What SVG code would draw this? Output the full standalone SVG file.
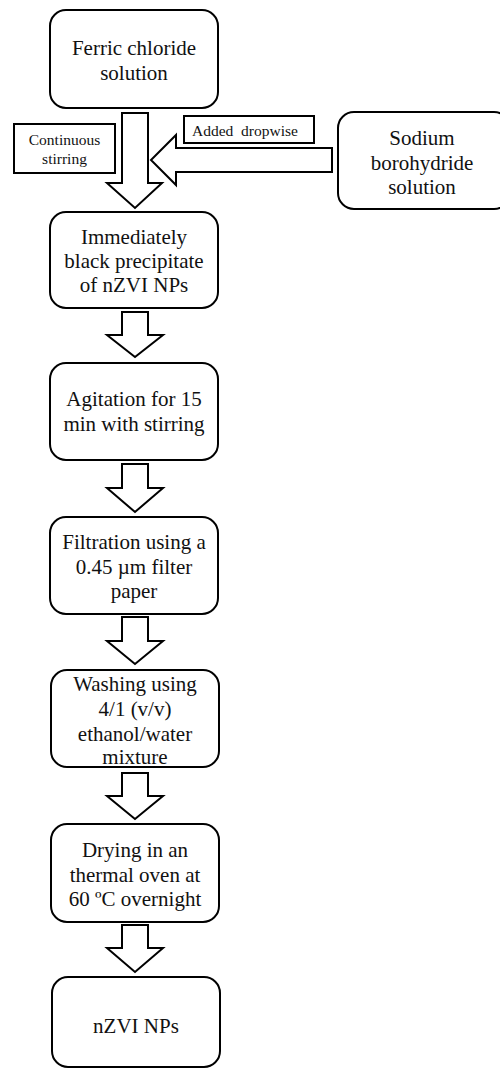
<svg xmlns="http://www.w3.org/2000/svg" width="500" height="1069" viewBox="0 0 500 1069">
<style>
.box{fill:#fff;stroke:#000;stroke-width:2}
.lab{fill:#fff;stroke:#000;stroke-width:2}
.arr{fill:#fff;stroke:#000;stroke-width:2;stroke-linejoin:miter}
.t{font-family:"Liberation Serif","Times New Roman",serif;font-size:21px;fill:#111;text-anchor:middle}
.s{font-family:"Liberation Serif","Times New Roman",serif;font-size:15.5px;fill:#111;text-anchor:middle}
</style>
<rect width="500" height="1069" fill="#fff"/>
<g id="connectors">
<polygon class="arr" points="122,113 148,113 148,183 162,183 135,208 107,183 122,183"/>
<polygon class="arr" points="332,148 176,148 176,135 151,160 176,185 176,172 332,172"/>
<polygon class="arr" points="122,312 148,312 148,335 163,335 135,357 107,335 122,335"/>
<polygon class="arr" points="122,464 148,464 148,488 163,488 135,512 107,488 122,488"/>
<polygon class="arr" points="122,617 148,617 148,641 163,641 135,664 107,641 122,641"/>
<polygon class="arr" points="122,773 148,773 148,796 163,796 135,819 107,796 122,796"/>
<polygon class="arr" points="122,925 148,925 148,948 163,948 135,972 107,948 122,948"/>
</g>
<g id="label-stirring">
<rect class="lab" x="14" y="124" width="101" height="49"/>
<text class="s" x="64.5" y="145">Continuous</text>
<text class="s" x="64.5" y="164">stirring</text>
</g>
<g id="label-dropwise">
<rect class="lab" x="184" y="116" width="130" height="27"/>
<text class="s" x="245" y="136" xml:space="preserve">Added  dropwise</text>
</g>
<g id="n1">
<rect class="box" x="50" y="10" width="168" height="98" rx="16"/>
<text class="t" x="134" y="55">Ferric chloride</text>
<text class="t" x="134" y="80">solution</text>
</g>
<g id="n-sodium">
<rect class="box" x="338" y="112" width="172" height="97" rx="16"/>
<text class="t" x="422" y="145">Sodium</text>
<text class="t" x="422" y="170">borohydride</text>
<text class="t" x="422" y="194">solution</text>
</g>
<g id="n2">
<rect class="box" x="50" y="212" width="168" height="96" rx="16"/>
<text class="t" x="134" y="244">Immediately</text>
<text class="t" x="134" y="268">black precipitate</text>
<text class="t" x="134" y="292">of nZVI NPs</text>
</g>
<g id="n3">
<rect class="box" x="50" y="363" width="168" height="97" rx="16"/>
<text class="t" x="134" y="406">Agitation for 15</text>
<text class="t" x="134" y="431">min with stirring</text>
</g>
<g id="n4">
<rect class="box" x="50" y="517" width="168" height="97" rx="16"/>
<text class="t" x="134" y="549">Filtration using a</text>
<text class="t" x="134" y="574">0.45 µm filter</text>
<text class="t" x="134" y="598">paper</text>
</g>
<g id="n5">
<rect class="box" x="51" y="670" width="168" height="97" rx="16"/>
<text class="t" x="135" y="691">Washing using</text>
<text class="t" x="135" y="716">4/1 (v/v)</text>
<text class="t" x="135" y="741">ethanol/water</text>
<text class="t" x="135" y="764">mixture</text>
</g>
<g id="n6">
<rect class="box" x="51" y="824" width="168" height="98" rx="16"/>
<text class="t" x="135" y="857">Drying in an</text>
<text class="t" x="135" y="882">thermal oven at</text>
<text class="t" x="135" y="906">60 ºC overnight</text>
</g>
<g id="n7">
<rect class="box" x="52" y="977" width="168" height="90" rx="16"/>
<text class="t" x="136" y="1033">nZVI NPs</text>
</g>
</svg>
